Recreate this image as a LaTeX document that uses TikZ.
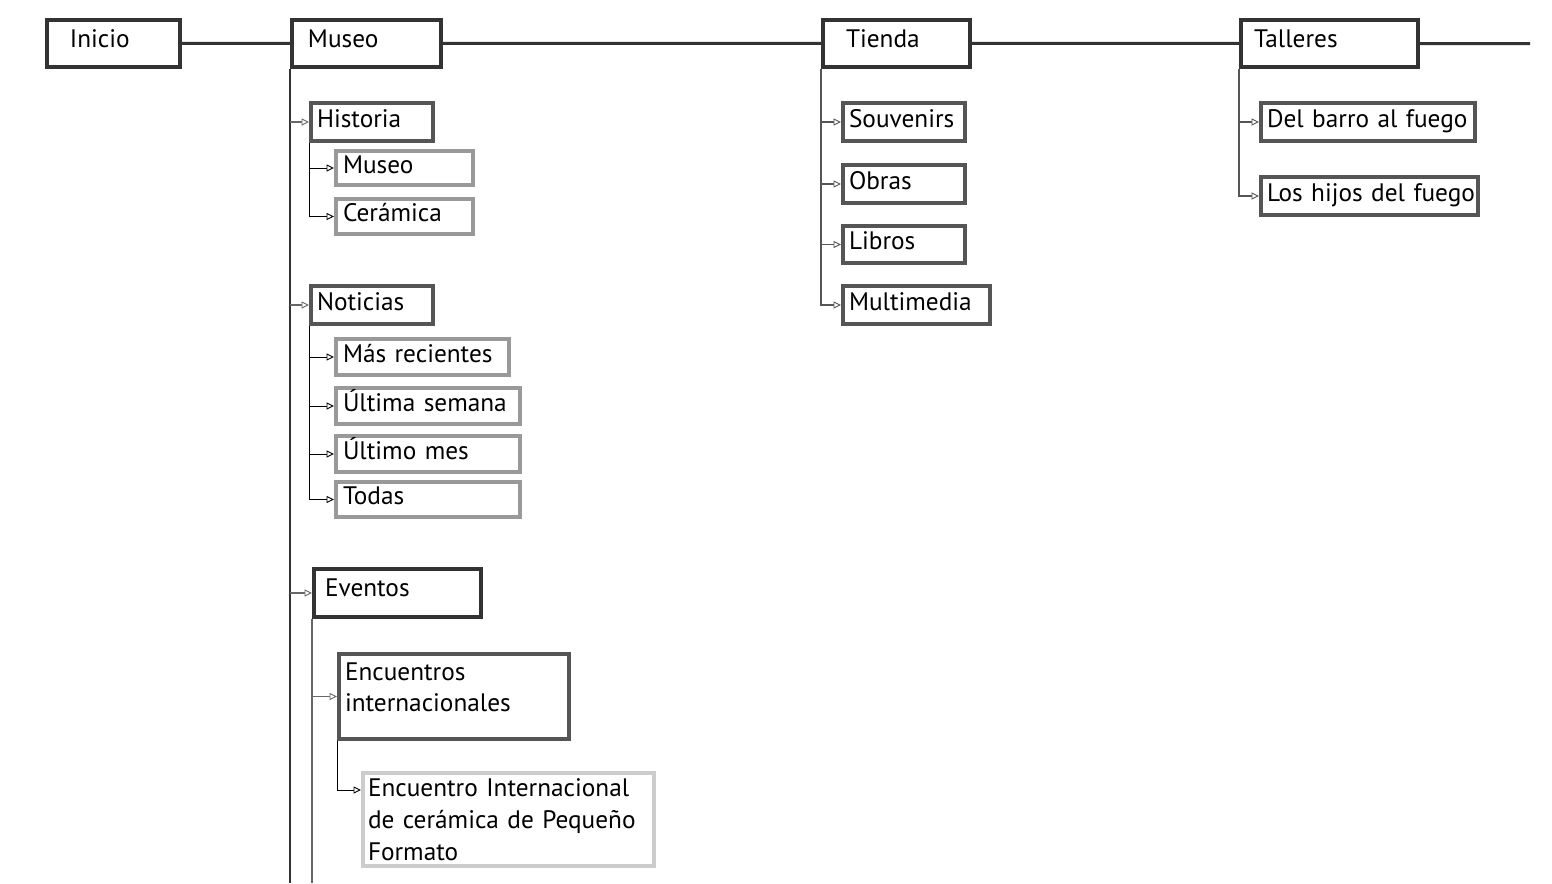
\documentclass[tikz,border=0pt]{standalone}
\usepackage{fontspec}
\setmainfont{PT Sans}
\usetikzlibrary{arrows.meta}
\hyphenpenalty=10000
\definecolor{dark}{HTML}{333333}
\definecolor{mid}{HTML}{555555}
\definecolor{soft}{HTML}{999999}
\definecolor{pale}{HTML}{CCCCCC}
\definecolor{wire}{HTML}{666666}
\definecolor{thin}{HTML}{888888}

\begin{document}
\begin{tikzpicture}[x=0.02cm, y=-0.02cm,
font=\fontsize{14.4}{18.2}\selectfont,
pagebox/.style={draw, line width=0.08cm, anchor=north west, align=left, inner ysep=0pt, inner xsep=0.12cm, text height=0.4cm, text depth=0.19cm},
topbox/.style={pagebox, draw=dark, minimum height=0.94cm, text depth=0.22cm},
midbox/.style={pagebox, draw=mid},
lowbox/.style={pagebox, draw=soft, inner xsep=0.14cm},
bar/.style={draw=dark, line width=0.06cm},
stem/.style={draw=dark, line width=0.04cm},
link/.style={line width=0.035cm, -{Triangle[length=0.15cm, width=0.14cm, fill=white, line width=0.5pt]}}
]
  \useasboundingbox (0,0) rectangle (1552,883);

  % top menu
  \node[topbox, text width=1.74cm, inner xsep=0.46cm] (inicio) at (45,18) {Inicio};
  \node[topbox, text width=2.34cm, inner xsep=0.32cm] (museo) at (290,18) {Museo};
  \node[topbox, text width=2.02cm, inner xsep=0.46cm] (tienda) at (821,18) {Tienda};
  \node[topbox, text width=3.02cm, inner xsep=0.26cm] (talleres) at (1239,18) {Talleres};
  \coordinate (tEnd) at (1530,43.5);
  \coordinate (mEnd) at (290,883);

  % museo
  \node[midbox, text width=2.2cm, minimum height=0.76cm] (historia) at (309,101) {Historia};
  \node[lowbox, text width=2.46cm, minimum height=0.68cm] (hmuseo) at (334,149) {Museo};
  \node[lowbox, text width=2.46cm, minimum height=0.70cm] (hceramica) at (334,197) {Cerámica};

  \node[midbox, text width=2.2cm, minimum height=0.76cm] (noticias) at (309,284) {Noticias};
  \node[lowbox, text width=3.18cm, minimum height=0.72cm] (nrecientes) at (334,337) {Más~recientes};
  \node[lowbox, text width=3.4cm, minimum height=0.72cm] (nsemana) at (334,386) {Última~semana};
  \node[lowbox, text width=3.4cm, minimum height=0.72cm] (nmes) at (334,434) {Último~mes};
  \node[lowbox, text width=3.4cm, minimum height=0.70cm] (ntodas) at (334,480) {Todas};

  \node[topbox, text width=2.9cm, inner xsep=0.22cm, minimum height=0.96cm, text depth=0.25cm] (eventos) at (312,567) {Eventos};
  \node[midbox, text width=4.36cm, minimum height=1.70cm, text height=0.45cm, text depth=1.11cm] (encuentros) at (337,652) {Encuentros\\internacionales};
  \node[pagebox, draw=pale, text width=5.62cm, inner xsep=0.1cm, minimum height=1.86cm, text height=, text depth=] (encint) at (361,771) {Encuentro Internacional\\de cerámica de Pequeño\\Formato};

  % tienda
  \node[midbox, text width=2.2cm, minimum height=0.76cm] (souvenirs) at (841,101) {Souvenirs};
  \node[midbox, text width=2.2cm, minimum height=0.76cm] (obras) at (841,163) {Obras};
  \node[midbox, text width=2.2cm, minimum height=0.74cm] (libros) at (841,224) {Libros};
  \node[midbox, text width=2.7cm, minimum height=0.76cm] (multimedia) at (841,284) {Multimedia};

  % talleres
  \node[midbox, text width=4.04cm, minimum height=0.76cm] (barro) at (1259,101) {Del~barro~al~fuego};
  \node[midbox, text width=4.1cm, minimum height=0.76cm] (hijos) at (1259,175) {Los~hijos~del~fuego};

  \draw[bar] (inicio) -- (museo)
        (museo) -- (tienda)
        (tienda) -- (talleres)
        (talleres) -- (tEnd);

  \draw[stem] (museo.south west) -- (museo.south west |- mEnd);
  \draw[link, wire] (museo.south west |- historia.west) -- (historia.west);
  \draw[link, wire] (museo.south west |- noticias.west) -- (noticias.west);
  \draw[link, wire] (museo.south west |- eventos.west) -- (eventos.west);

  \draw[link, thin] (historia.south west) |- (hmuseo.west);
  \draw[link, thin] (historia.south west) |- (hceramica.west);
  \draw[link, thin] (noticias.south west) |- (nrecientes.west);
  \draw[link, thin] (noticias.south west) |- (nsemana.west);
  \draw[link, thin] (noticias.south west) |- (nmes.west);
  \draw[link, thin] (noticias.south west) |- (ntodas.west);

  \draw[wire, line width=0.035cm] (eventos.south west) -- (eventos.south west |- mEnd);
  \draw[link, wire] (eventos.south west |- encuentros.west) -- (encuentros.west);
  \draw[link, thin] (encuentros.south west) |- ([yshift=0.59cm]encint.west);

  \draw[link, mid] (tienda.south west) |- (souvenirs.west);
  \draw[link, mid] (tienda.south west) |- (obras.west);
  \draw[link, mid] (tienda.south west) |- (libros.west);
  \draw[link, mid] (tienda.south west) |- (multimedia.west);

  \draw[link, mid] (talleres.south west) |- (barro.west);
  \draw[link, mid] (talleres.south west) |- (hijos.west);
\end{tikzpicture}
\end{document}
